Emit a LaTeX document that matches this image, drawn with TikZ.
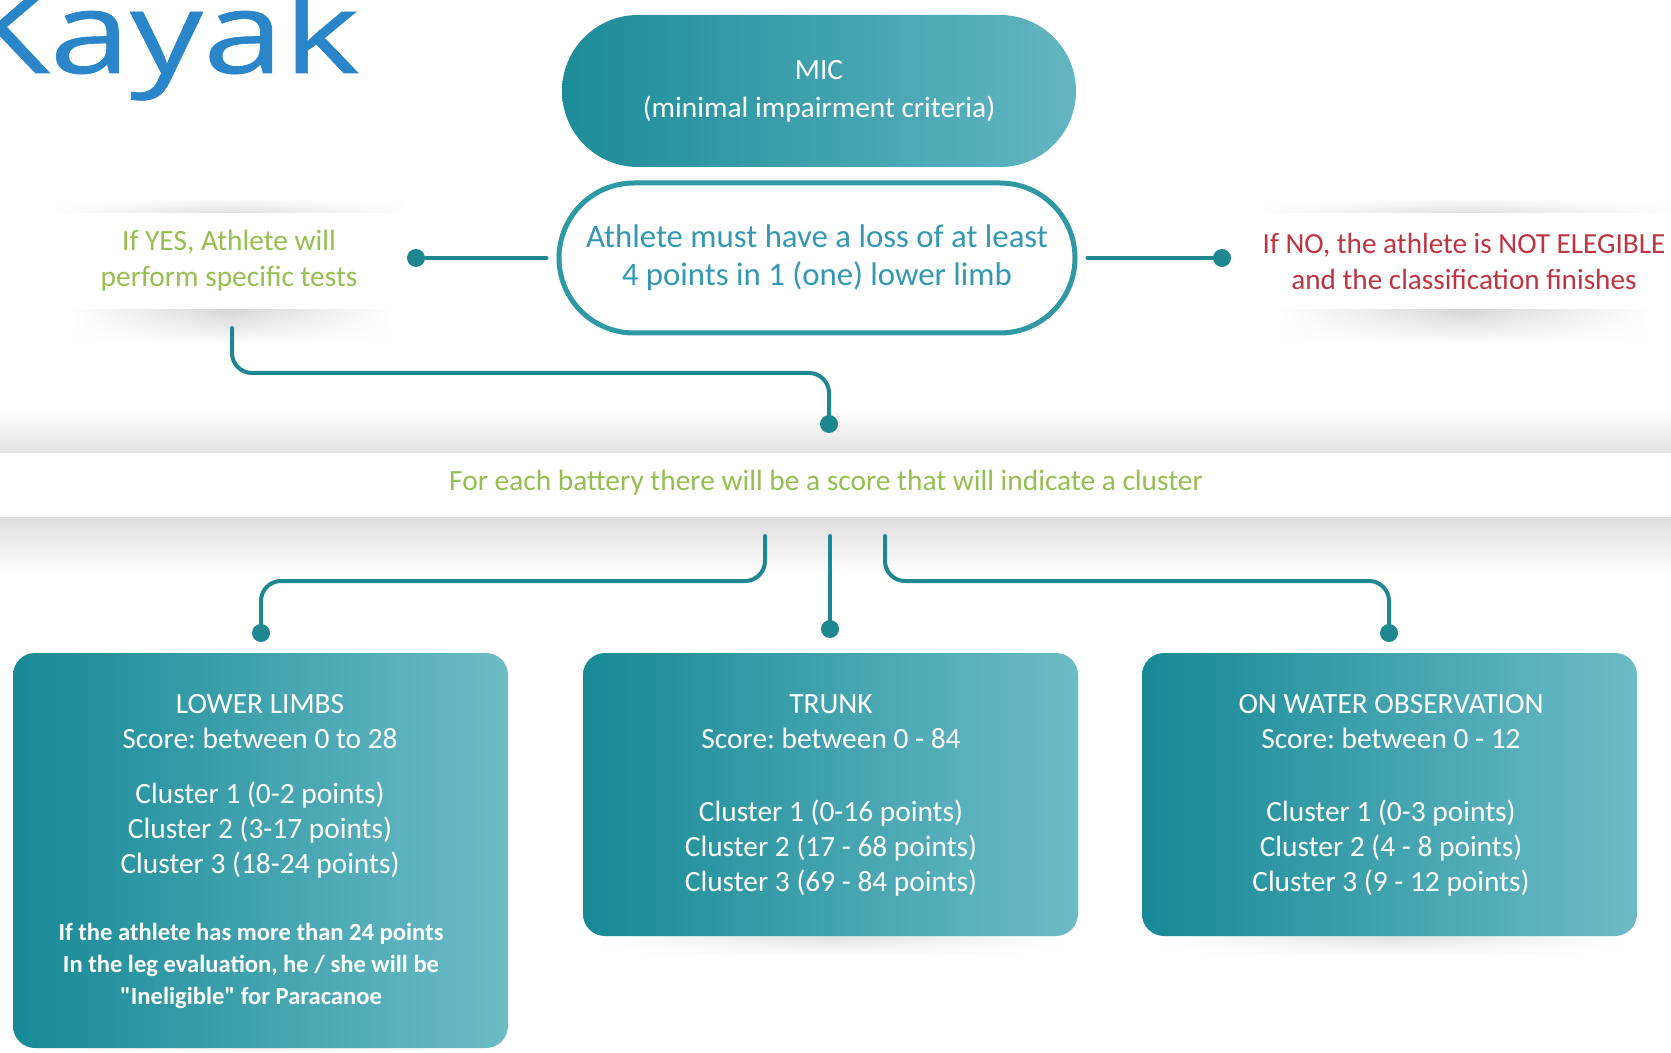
\documentclass[tikz,border=0pt]{standalone}
\usepackage{fontspec}
\setmainfont{Carlito}
\newfontfamily\titlefont{Open Sans}[FakeStretch=1.27,FakeBold=0.6]
\usetikzlibrary{shapes.misc,fadings}
\definecolor{tealD}{HTML}{178996}
\definecolor{tealL}{HTML}{6CBCC6}
\definecolor{micL}{HTML}{1D8C99}
\definecolor{micR}{HTML}{62B6C2}
\definecolor{connC}{HTML}{1E8790}
\definecolor{athC}{HTML}{2E98A4}
\definecolor{athT}{HTML}{3399B3}
\definecolor{greenT}{HTML}{96BE50}
\definecolor{redT}{HTML}{BE3441}
\definecolor{kblue}{HTML}{2A86C8}
\tikzfading[name=hfade,left color=transparent!100,right color=transparent!100,middle color=transparent!0]
\frenchspacing
\begin{document}
\begin{tikzpicture}[x=0.5pt,y=-0.5pt,
  conn/.style={draw=connC,line width=2pt,line cap=round,rounded corners=10pt},
  pill/.style={rounded rectangle,inner sep=0pt},
  paper/.style={fill=white,inner sep=0pt,align=center},
  shadowdown/.style={top color=black!16,bottom color=white,path fading=hfade},
  shadowup/.style={top color=white,bottom color=black!13,path fading=hfade},
  tbox/.style={rounded corners=11pt,left color=tealD,right color=tealL,
    minimum width=247.5pt,inner sep=0pt},
  btext/.style={text=white,align=center,inner sep=0pt,font=\fontsize{14.7}{17.5}\selectfont},
  bnote/.style={text=white,align=center,inner sep=0pt,font=\bfseries\fontsize{12.3}{16}\selectfont}
]
\useasboundingbox (0,0) rectangle (1671,1053);
\fill[white] (0,0) rectangle (1671,1053);

% band and its shadows
\shade[top color=white,bottom color=black!11] (0,408) rectangle (1671,453);
\shade[top color=black!13,bottom color=white] (0,517) rectangle (1671,575);
\node[fill=white,minimum width=835.5pt,minimum height=32pt,inner sep=0pt] (band) at (835.5,485) {};
\node[text=greenT,inner sep=0pt,font=\fontsize{14.7}{17}\selectfont] (bandtext) at (826,483)
  {For each battery there will be a score that will indicate a cluster};

% title
\node[anchor=base east,inner sep=0pt,text=kblue,font=\titlefont\fontsize{57}{60}\selectfont] (title) at (360,73) {Kayak};

% top pills
\node[pill,left color=micL,right color=micR,minimum width=257pt,minimum height=76pt,
  text=white,align=center,font=\fontsize{14.7}{19}\selectfont] (mic) at (819,91)
  {MIC\\(minimal impairment criteria)};
\node[pill,draw=athC,line width=2.5pt,fill=white,minimum width=258pt,minimum height=75pt,
  text=athT,align=center,font=\fontsize{16.4}{19}\selectfont] (ath) at (817,258)
  {Athlete must have a loss of at least\\4 points in 1 (one) lower limb};

% side notes with soft shadows
\shade[shadowup] (55,198) rectangle (405,213);
\shade[shadowdown] (70,309) rectangle (390,345);
\shade[shadowup] (1262,198) rectangle (1671,213);
\shade[shadowdown] (1280,309) rectangle (1650,345);
\node[paper,minimum width=170pt,minimum height=48pt,text=greenT,font=\fontsize{14.7}{18}\selectfont] (yes) at (229,261)
  {If YES, Athlete will\\perform specific tests};
\node[paper,minimum width=202pt,minimum height=48pt,text=redT,font=\fontsize{14.6}{18}\selectfont] (no) at (1464,261)
  {If NO, the athlete is NOT ELEGIBLE\\and the classification finishes};

% side connectors
\coordinate (yesdot) at (416,258);
\coordinate (nodot) at (1222,258);
\draw[conn,shorten <=5pt] (ath.west) -- (yesdot);
\draw[conn,shorten <=5pt] (ath.east) -- (nodot);
\fill[connC] (yesdot) circle (4.5pt);
\fill[connC] (nodot) circle (4.5pt);

% yes to band
\coordinate (yesstart) at (232,328);
\coordinate (banddot) at (829,424);
\draw[conn] (yesstart) |- (829,373) -- (banddot);
\fill[connC] (banddot) circle (4.5pt);

% band to boxes
\coordinate (lstart) at (765,536);
\coordinate (mstart) at (830,536);
\coordinate (rstart) at (885,536);
\coordinate (lldot) at (261,633);
\coordinate (trdot) at (830,629);
\coordinate (owdot) at (1389,633);
\draw[conn] (lstart) |- (261,581) -- (lldot);
\draw[conn] (mstart) -- (trdot);
\draw[conn] (rstart) |- (1389,581) -- (owdot);
\fill[connC] (lldot) circle (4.5pt);
\fill[connC] (trdot) circle (4.5pt);
\fill[connC] (owdot) circle (4.5pt);

% box shadows
\shade[shadowdown] (30,1040) rectangle (495,1053);
\shade[shadowdown] (600,930) rectangle (1065,955);
\shade[shadowdown] (1160,930) rectangle (1625,955);

% boxes
\node[tbox,minimum height=197.5pt] (ll) at (260.5,850.5) {};
\node[tbox,minimum height=141.5pt] (tr) at (830.5,794.5) {};
\node[tbox,minimum height=141.5pt] (ow) at (1389.5,794.5) {};

\node[btext] (lltext) at (260,786)
  {LOWER LIMBS\\Score: between 0 to 28\\[10pt]Cluster 1 (0-2 points)\\Cluster 2 (3-17 points)\\Cluster 3 (18-24 points)};
\node[bnote] (llnote) at (251,966)
  {If the athlete has more than 24 points\\In the leg evaluation, he / she will be\\\textquotedbl Ineligible\textquotedbl{} for Paracanoe};
\node[btext] (trtext) at (831,795)
  {TRUNK\\Score: between 0 - 84\\[19pt]Cluster 1 (0-16 points)\\Cluster 2 (17 - 68 points)\\Cluster 3 (69 - 84 points)};
\node[btext] (owtext) at (1391,795)
  {ON WATER OBSERVATION\\Score: between 0 - 12\\[19pt]Cluster 1 (0-3 points)\\Cluster 2 (4 - 8 points)\\Cluster 3 (9 - 12 points)};
\end{tikzpicture}
\end{document}
